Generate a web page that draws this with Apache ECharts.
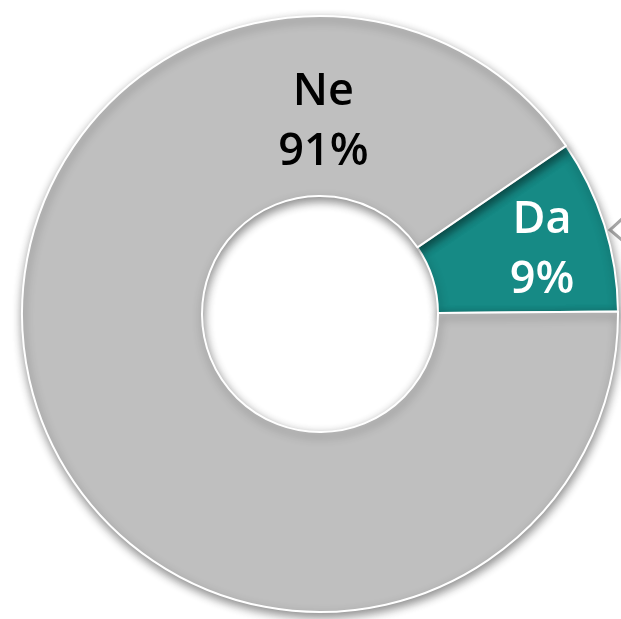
<!DOCTYPE html>
<html>
<head>
<meta charset="utf-8">
<script src="https://cdn.jsdelivr.net/npm/echarts@6/dist/echarts.min.js"></script>
<style>
html,body{margin:0;padding:0;background:#fff;}
#c{width:621px;height:619px;}
</style>
</head>
<body>
<div id="c"></div>
<script>
const categories = ['Da', 'Ne'];
const values = [9.4, 90.6];
const sliceColors = ['#168A85', '#BFBFBF'];
const labelColors = ['#FFFFFF', '#000000'];

// layout
const CX = 320, CY = 314;
const labelPolar = [ {angle: 16, r: 231}, {angle: 89, r: 192} ];

const chart = echarts.init(document.getElementById('c'), null, {renderer: 'canvas'});
chart.setOption({
  backgroundColor: '#ffffff',
  animation: false,
  series: [{
    type: 'pie',
    center: [CX, CY],
    radius: [118, 298],
    startAngle: 0.5,
    clockwise: false,
    silent: true,
    itemStyle: {
      borderColor: '#ffffff',
      borderWidth: 2,
      shadowBlur: 10,
      shadowOffsetX: 1,
      shadowOffsetY: 4,
      shadowColor: 'rgba(0,0,0,0.45)'
    },
    label: {
      show: true,
      position: 'inside',
      fontFamily: 'Open Sans',
      fontWeight: 600,
      fontSize: 45,
      lineHeight: 60,
      align: 'center',
      formatter: p => p.name + '\n' + Math.round(p.percent) + '%'
    },
    labelLine: {show: false},
    labelLayout: function (params) {
      const lp = labelPolar[params.dataIndex];
      const a = lp.angle * Math.PI / 180;
      return {
        x: CX + lp.r * Math.cos(a),
        y: CY - lp.r * Math.sin(a),
        align: 'center',
        verticalAlign: 'middle'
      };
    },
    data: categories.map((c, i) => ({
      name: c,
      value: values[i],
      itemStyle: {color: sliceColors[i]},
      label: {color: labelColors[i]}
    }))
  }],
  graphic: [{
    type: 'polyline',
    silent: true,
    shape: {points: [[623, 218], [610, 230], [623, 241]]},
    style: {stroke: '#A6A6A6', lineWidth: 3, fill: null}
  }]
});
</script>
</body>
</html>
